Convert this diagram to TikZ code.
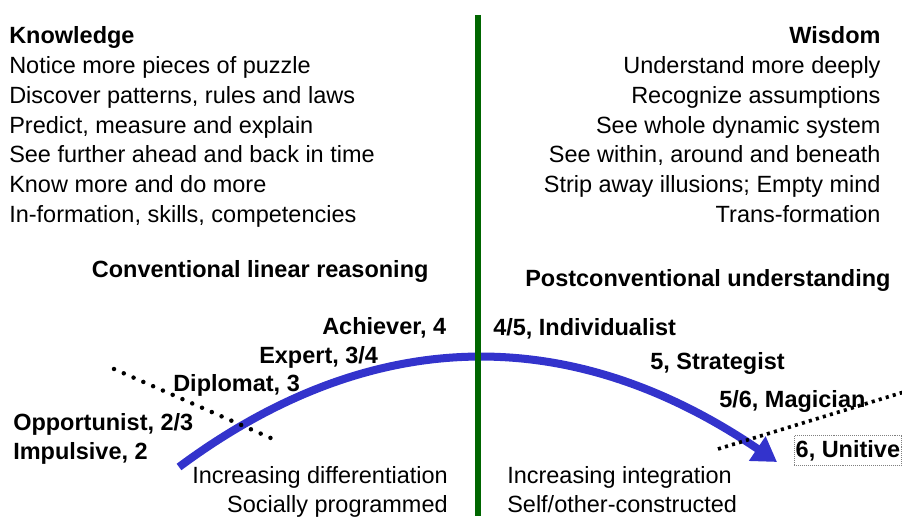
\documentclass[tikz,border=0pt]{standalone}
\usepackage{fontspec}
\setmainfont{Liberation Sans}
\usetikzlibrary{arrows.meta}
\definecolor{arcblue}{RGB}{51,51,204}
\definecolor{divgreen}{RGB}{0,102,0}

\begin{document}
\begin{tikzpicture}[
	txt/.style={inner sep=0pt,font=\fontsize{16.7}{20}\selectfont},
	stage/.style={inner sep=0pt,font=\fontsize{16.7}{20}\selectfont\bfseries}]
\useasboundingbox (0,0) rectangle (22.55,12.9);
\node[stage,anchor=base west] (know) at (0.225,11.8) {Knowledge};
\foreach \t [count=\i] in {{Notice more pieces of puzzle},{Discover patterns, rules and laws},{Predict, measure and explain},{See further ahead and back in time},{Know more and do more},{In-formation, skills, competencies}}{
	\node[txt,anchor=base west] (k\i) at (0.225,11.8-0.7425*\i) {\t};
}
\node[stage,anchor=base east] (wis) at (22.02,11.8) {Wisdom};
\foreach \t [count=\i] in {{Understand more deeply},{Recognize assumptions},{See whole dynamic system},{See within, around and beneath},{Strip away illusions; Empty mind},{Trans-formation}}{
	\node[txt,anchor=base east] (w\i) at (22.02,11.8-0.7425*\i) {\t};
}
\node[stage,anchor=base west] (conv) at (2.29,5.95) {Conventional linear reasoning};
\node[stage,anchor=base west] (post) at (13.125,5.725) {Postconventional understanding};
\node[stage,anchor=base west] (ach) at (8.05,4.55) {Achiever, 4};
\node[stage,anchor=base west] (exp) at (6.475,3.825) {Expert, 3/4};
\node[stage,anchor=base west] (dip) at (4.325,3.125) {Diplomat, 3};
\node[stage,anchor=base west] (opp) at (0.325,2.15) {Opportunist, 2/3};
\node[stage,anchor=base west] (imp) at (0.325,1.425) {Impulsive, 2};
\node[stage,anchor=base west] (ind) at (12.325,4.5) {4/5, Individualist};
\node[stage,anchor=base west] (str) at (16.25,3.675) {5, Strategist};
\node[stage,anchor=base west] (mag) at (17.975,2.725) {5/6, Magician};
\node[stage,anchor=base west,draw=gray,densely dotted,thin,inner xsep=1pt,inner ysep=3pt] (uni) at (19.85,1.475) {6, Unitive};
\node[txt,anchor=base east] (diff) at (11.2,0.825) {Increasing differentiation};
\node[txt,anchor=base east] (soc) at (11.2,0.1) {Socially programmed};
\node[txt,anchor=base west] (integ) at (12.675,0.825) {Increasing integration};
\node[txt,anchor=base west] (self) at (12.675,0.1) {Self/other-constructed};
\coordinate (s) at (4.475,1.225);
\coordinate (e) at (19.425,1.35);
\draw[arcblue,line width=5.7pt,-{Triangle[length=17pt,width=20pt]}] (s) .. controls (9.325,4.83) and (14.3,4.83) .. (e);
\coordinate (d1) at (2.85,3.675);
\coordinate (d2) at (6.825,1.925);
\draw[line width=3.2pt,line cap=round,dash pattern=on 0pt off 7.6pt] (d1) -- (d2);
\coordinate (m1) at (17.95,1.675);
\coordinate (m2) at (22.6,3.1);
\draw[line width=2.6pt,dash pattern=on 2.2pt off 3pt] (m1) -- (m2);
\coordinate (top) at (11.95,12.525);
\coordinate (bot) at (11.95,0);
\draw[divgreen,line width=4pt] (top) -- (bot);
\end{tikzpicture}
\end{document}
